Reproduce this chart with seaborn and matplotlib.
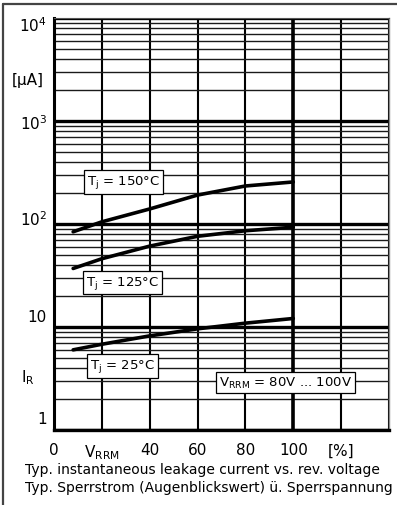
import matplotlib
matplotlib.use("Agg")
import pandas as pd
import seaborn as sns
from matplotlib import pyplot as plt
from matplotlib.lines import Line2D
from matplotlib.ticker import LogLocator, NullFormatter
from matplotlib.transforms import ScaledTranslation

# leakage current I_R [uA] vs. reverse voltage [% of V_RRM]
v_pct = [8, 20, 40, 60, 80, 100]
ir_150 = [84, 105, 140, 191, 234, 256]
ir_125 = [37, 46, 61, 76, 86, 93]
ir_25 = [6.0, 6.8, 8.2, 9.6, 10.9, 12.1]

x_ticks = [0, 20, 40, 60, 80, 100, 120, 140]
x_labels = ['0', r'V$_\mathregular{RRM}$', '40', '60', '80', '100', '[%]', '']
y_ticks = [1, 10, 100, 1000, 10000]
y_labels = ['1', '10', r'10$^\mathregular{2}$', r'10$^\mathregular{3}$', r'10$^\mathregular{4}$']


def main():
    sns.set_style('white')
    plt.rcParams['font.family'] = ['DejaVu Sans']
    plt.rcParams['text.color'] = 'black'
    plt.rcParams['xtick.color'] = 'black'
    plt.rcParams['ytick.color'] = 'black'

    df = pd.concat([
        pd.DataFrame({'v': v_pct, 'ir': ir_150, 'tj': '150'}),
        pd.DataFrame({'v': v_pct, 'ir': ir_125, 'tj': '125'}),
        pd.DataFrame({'v': v_pct, 'ir': ir_25, 'tj': '25'}),
    ])

    fig = plt.figure(figsize=(3.97, 5.06), dpi=100)
    ax = fig.add_axes([54 / 397, 1 - 431 / 506, (389 - 54) / 397, (431 - 19) / 506])
    ax.set_yscale('log')
    ax.set_xlim(0, 140)
    ax.set_ylim(1, 1e4)

    # grid
    ax.yaxis.set_minor_locator(LogLocator(base=10, subs=range(2, 10)))
    ax.yaxis.set_minor_formatter(NullFormatter())
    ax.grid(which='minor', axis='y', color='#1a1a1a', lw=1.0)
    ax.grid(which='major', axis='y', color='black', lw=2.4)
    ax.grid(which='major', axis='x', color='black', lw=1.5)
    ax.axvline(100, color='black', lw=2.6)
    ax.set_axisbelow(True)

    sns.lineplot(data=df, x='v', y='ir', hue='tj', palette=['black'] * 3,
                 lw=2.6, legend=False, ax=ax)

    ax.set_xticks(x_ticks)
    ax.set_xticklabels(x_labels, fontsize=11)
    ax.set_yticks(y_ticks)
    ax.set_yticklabels(y_labels, fontsize=11)
    ax.tick_params(axis='both', which='both', length=0, colors='black')
    ax.tick_params(axis='x', pad=9)
    ax.tick_params(axis='y', pad=5)
    ax.set_xlabel('')
    ax.set_ylabel('')

    shifts = [0.13, 0.12, 0.07, 0.0, -0.05]
    for lab, dy in zip(ax.get_yticklabels(), shifts):
        lab.set_transform(lab.get_transform() + ScaledTranslation(0, dy, fig.dpi_scale_trans))

    ax.spines['left'].set_linewidth(2.2)
    ax.spines['bottom'].set_linewidth(2.4)
    ax.spines['top'].set_linewidth(0.8)
    ax.spines['top'].set_color('#555555')
    ax.spines['right'].set_linewidth(1.0)
    ax.spines['right'].set_color('#888888')
    for s in ['left', 'bottom']:
        ax.spines[s].set_color('black')

    box = dict(boxstyle='square,pad=0.25', fc='white', ec='black', lw=0.9)
    ax.text(29, 256, r'T$_\mathregular{j}$ = 150°C', ha='center', va='center', fontsize=9.5, bbox=box)
    ax.text(28.6, 27, r'T$_\mathregular{j}$ = 125°C', ha='center', va='center', fontsize=9.5, bbox=box)
    ax.text(28.6, 4.2, r'T$_\mathregular{j}$ = 25°C', ha='center', va='center', fontsize=9.5, bbox=box)
    ax.text(96.7, 2.9, r'V$_\mathregular{RRM}$ = 80V ... 100V', ha='center', va='center', fontsize=9.5, bbox=box)

    fig.text(28 / 397, 1 - 81 / 506, '[µA]', ha='center', va='center', fontsize=11)
    fig.text(28 / 397, 1 - 378 / 506, r'I$_\mathregular{R}$', ha='center', va='center', fontsize=11)

    fig.text(25 / 397, 1 - 470 / 506, 'Typ. instantaneous leakage current vs. rev. voltage',
             ha='left', va='center', fontsize=10)
    fig.text(25 / 397, 1 - 488 / 506, 'Typ. Sperrstrom (Augenblickswert) ü. Sperrspannung',
             ha='left', va='center', fontsize=10)

    # outer frame (top and left)
    fig.add_artist(Line2D([3 / 397, 1], [1 - 5 / 506, 1 - 5 / 506], color='#444444', lw=1.6))
    fig.add_artist(Line2D([3 / 397, 3 / 397], [0, 1 - 5 / 506], color='#444444', lw=1.6))

    fig.savefig('out.png', dpi=100)


if __name__ == '__main__':
    main()
